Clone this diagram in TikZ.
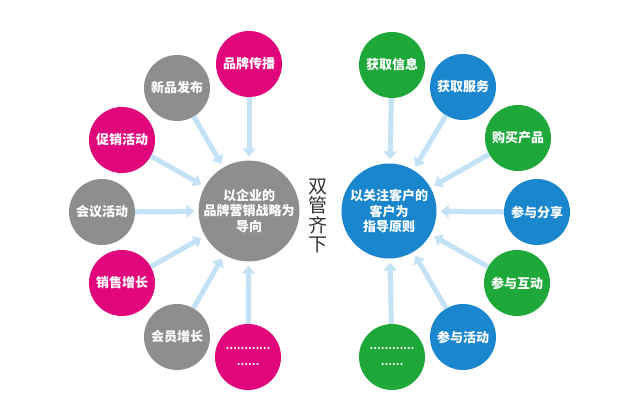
\documentclass[tikz,border=0pt]{standalone}
\usepackage{fontspec}
\newfontfamily\cjk{Noto Sans CJK SC}
\usepackage{xcolor}
\usepackage{tikz}
\usetikzlibrary{arrows.meta}
\definecolor{rose}{RGB}{226,6,124}
\definecolor{stone}{RGB}{142,142,142}
\definecolor{leaf}{RGB}{30,168,58}
\definecolor{sea}{RGB}{26,134,206}
\definecolor{pale}{RGB}{196,226,245}
\tikzset{every node/.append style={font=\cjk}}
\tikzset{
  hub/.style={circle, minimum size=95pt, inner sep=0pt, text=white, align=center,
    font=\cjk\bfseries\fontsize{13}{15.5}\selectfont},
  sat/.style={circle, minimum size=66pt, inner sep=0pt, text=white, align=center,
    font=\cjk\bfseries\fontsize{13}{15}\selectfont},
  link/.style={draw=pale, line width=5pt, -{Triangle[width=13pt,length=8pt]}, shorten >=4pt}
}

\begin{document}
\begin{tikzpicture}[x=1pt, y=-1pt]
    \useasboundingbox (0,0) rectangle (628,401);
    % two hubs
    \node[hub, fill=stone] (firm) at (249,211) {以企业的\\品牌营销战略为\\导向};
    \node[hub, fill=sea] (client) at (389,211) {以关注客户的\\客户为\\指导原则};
    \node[font=\cjk\fontsize{19}{19.5}\selectfont, text=black!80, align=center] (both) at (318,216) {双\\管\\齐\\下};
    % brand side
    \foreach \n/\x/\y/\c/\t in {brand/249/64/rose/品牌传播, launch/177/88/stone/新品发布,
        promo/122/140/rose/促销活动, meet/102/212/stone/会议活动, sales/122/283/rose/销售增长,
        member/177/337/stone/会员增长} {
        \node[sat, fill=\c] (\n) at (\x,\y) {\t};
        \draw[link] (\n) -- (firm);
    }
    \node[sat, fill=rose, font=\cjk\bfseries\fontsize{10}{16}\selectfont] (moreL) at (248,357) {…………\\……};
    \draw[link] (moreL) -- (firm);
    % client side
    \foreach \n/\x/\y/\c/\t in {info/392/65/leaf/获取信息, service/463/87/sea/获取服务,
        buy/518/138/leaf/购买产品, share/537/212/sea/参与分享, talk/517/283/leaf/参与互动,
        event/463/337/sea/参与活动} {
        \node[sat, fill=\c] (\n) at (\x,\y) {\t};
        \draw[link] (\n) -- (client);
    }
    \node[sat, fill=leaf, font=\cjk\bfseries\fontsize{10}{16}\selectfont] (moreR) at (392,357) {…………\\……};
    \draw[link] (moreR) -- (client);
\end{tikzpicture}
\end{document}
